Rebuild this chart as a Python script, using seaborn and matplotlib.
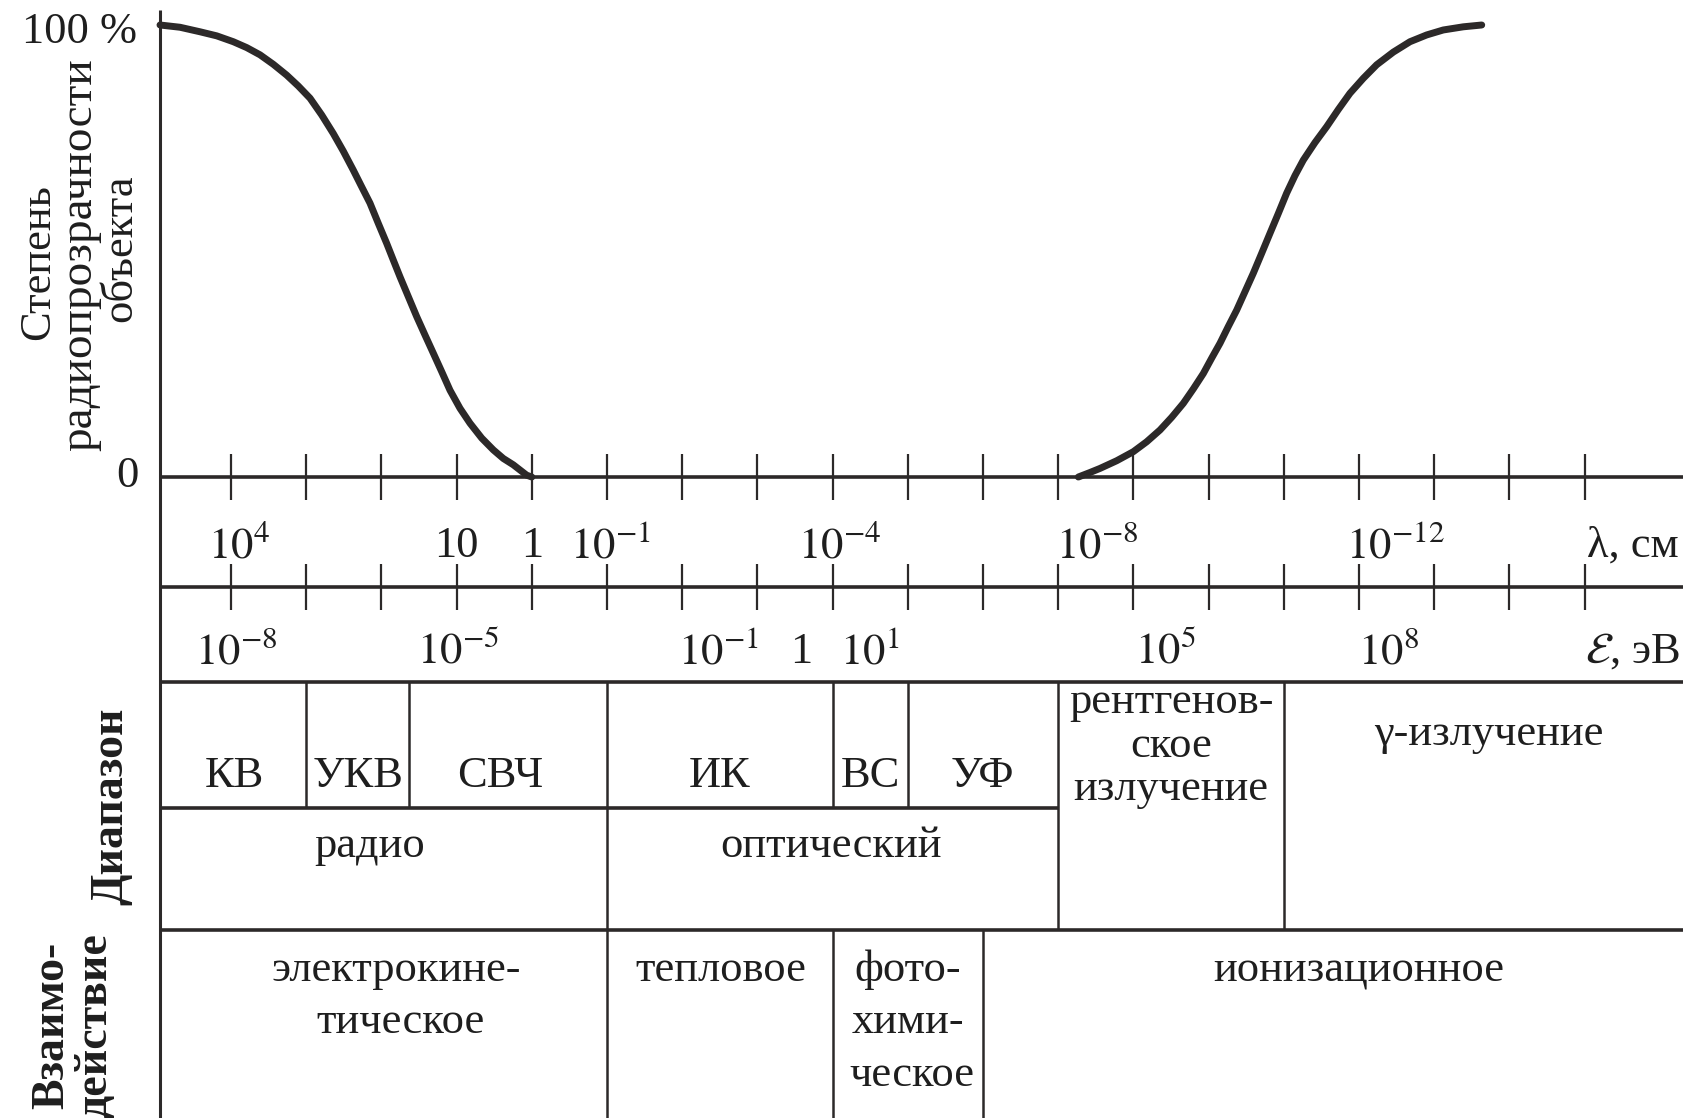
import numpy as np
import pandas as pd
import matplotlib
matplotlib.use('Agg')
import matplotlib.pyplot as plt
import seaborn as sns

# x is measured in decades of wavelength: x = -log10(lambda / cm)
left_x = [-4.944, -4.678, -4.412, -4.190, -3.969, -3.791, -3.614, -3.437, -3.259,
          -3.105, -2.949, -2.794, -2.640, -2.507, -2.374, -2.262, -2.152, -2.041,
          -1.930, -1.842, -1.753, -1.642, -1.531, -1.420, -1.310, -1.198, -1.088,
          -0.955, -0.822, -0.666, -0.512, -0.379, -0.246, -0.068, 0.0]
left_y = [100, 99.5, 98.5, 97.6, 96.3, 95.0, 93.4, 91.3, 88.9,
          86.5, 83.8, 80.1, 76.0, 72.1, 67.9, 64.2, 60.6, 56.1,
          51.7, 48.0, 44.3, 39.9, 35.5, 31.4, 27.4, 23.3, 19.2,
          15.2, 11.9, 8.6, 6.0, 4.1, 2.7, 0.4, 0]
right_x = [7.268, 7.423, 7.556, 7.778, 7.999, 8.177, 8.354, 8.509, 8.664, 8.797,
           8.930, 9.041, 9.152, 9.262, 9.373, 9.484, 9.595, 9.706, 9.816, 9.927,
           10.038, 10.149, 10.259, 10.415, 10.570, 10.725, 10.880, 11.057, 11.235,
           11.456, 11.678, 11.900, 12.121, 12.387, 12.632]
right_y = [0, 1.0, 1.9, 3.6, 5.6, 7.8, 10.4, 13.2, 16.3, 19.5,
           22.9, 26.3, 29.6, 33.3, 36.9, 41.0, 45.1, 49.5, 53.9, 58.3,
           62.8, 66.7, 70.1, 74.0, 77.5, 81.3, 84.9, 88.2, 91.2,
           94.0, 96.3, 97.8, 98.9, 99.6, 100]

decade_ticks = list(range(-4, 15))
lam_labels = [r'$10^{4}$', '10', '1', r'$10^{-1}$', r'$10^{-4}$', r'$10^{-8}$', r'$10^{-12}$']
lam_label_x = [-3.9, -1.0, 0.0, 1.05, 4.1, 7.52, 11.48]
en_labels = [r'$10^{-8}$', r'$10^{-5}$', r'$10^{-1}$', '1', r'$10^{1}$', r'$10^{5}$', r'$10^{8}$']
en_label_x = [-3.93, -0.98, 2.48, 3.58, 4.5, 8.42, 11.39]

# band boundaries (decades)
sub_bounds = [-3, -1.63, 4, 5]          # КВ|УКВ|СВЧ, ИК|ВС|УФ
radio_optical = 1
optical_xray = 7
xray_gamma = 10
heat_photo = 4
photo_ion = 6

sub_names = ['КВ', 'УКВ', 'СВЧ', 'ИК', 'ВС', 'УФ']
sub_x = [-3.96, -2.31, -0.42, 2.5, 4.5, 5.99]
main_names = ['радио', 'оптический']
main_x = [-2.15, 3.98]
xray_lines = ['рентгенов-', 'ское', 'излучение']
gamma_name = 'γ-излучение'
inter_first = ['электрокине-', 'тепловое', 'фото-', 'ионизационное']
inter_first_x = [-1.8, 2.52, 5.0, 11.0]
inter_second = ['тическое', 'хими-']
inter_second_x = [-1.75, 5.0]
inter_third = ['ческое']

# pixel layout of the sheet (y in % units of the upper plot)
Y0, PX = 477, 4.52
def yv(Y):
    return (Y0 - Y) / PX

def xv(X):
    return (X - 231) / 75.2 - 4

X_AXIS, X_END = -4.944, 15.31
INK = '#2c2929'
FS = 32

sns.set_style('white')
plt.rcParams['font.family'] = ['Liberation Serif', 'DejaVu Serif']
plt.rcParams['mathtext.fontset'] = 'stix'

fig = plt.figure(figsize=(17.05, 11.18), dpi=100)
ax = fig.add_axes([0, 0, 1, 1])
ax.set_xlim(xv(0), xv(1705))
ax.set_ylim(yv(1118), yv(0))
ax.axis('off')

# transparency curves
curves = pd.concat([
    pd.DataFrame({'x': left_x, 'y': left_y, 'part': 'left'}),
    pd.DataFrame({'x': right_x, 'y': right_y, 'part': 'right'}),
])
for part, grp in curves.groupby('part'):
    sns.lineplot(data=grp, x='x', y='y', sort=False, ax=ax, color=INK,
                 lw=5.0, estimator=None, legend=False,
                 solid_joinstyle='round', solid_capstyle='round')
ax.set_xlabel('')
ax.set_ylabel('')

# frame lines
ax.vlines(X_AXIS, yv(1118), yv(10), color=INK, lw=2.2)
for Y in [477, 587, 682, 930]:
    ax.hlines(yv(Y), X_AXIS, X_END, color=INK, lw=2.6)
ax.hlines(yv(808), X_AXIS, optical_xray, color=INK, lw=2.6)

# decade ticks on both scales
for Y in [477, 587]:
    ax.vlines(decade_ticks, yv(Y + 23), yv(Y - 23), color=INK, lw=1.6)

# table partitions
ax.vlines(sub_bounds, yv(808), yv(682), color=INK, lw=1.8)
ax.vlines([radio_optical], yv(1118), yv(682), color=INK, lw=1.8)
ax.vlines([optical_xray, xray_gamma], yv(930), yv(682), color=INK, lw=1.8)
ax.vlines([heat_photo, photo_ion], yv(1118), yv(930), color=INK, lw=1.8)

tkw = dict(color='#1e1e1e', fontsize=FS)

# scale labels
for lab, x in zip(lam_labels, lam_label_x):
    ax.text(x, yv(557), lab, ha='center', va='baseline', **tkw)
ax.text(14.64, yv(557), 'λ, см', ha='center', va='baseline', **tkw)
for lab, x in zip(en_labels, en_label_x):
    ax.text(x, yv(663), lab, ha='center', va='baseline', **tkw)
ax.text(14.64, yv(663), r'$\mathcal{E}$, эВ', ha='center', va='baseline', **tkw)

# y axis
ax.text(xv(80), yv(43), '100 %', ha='center', va='baseline', **tkw)
ax.text(xv(127), yv(487), '0', ha='center', va='baseline', **tkw)
for txt, X, Y, fs in [('Степень', 38, 262, FS), ('радиопрозрачности', 80, 255, FS + 2),
                      ('объекта', 120, 248, FS)]:
    ax.text(xv(X), yv(Y), txt, rotation=90, ha='center', va='center',
            color='#1e1e1e', fontsize=fs)

# row titles
bkw = dict(color='#1e1e1e', fontsize=FS + 1, fontweight='bold', rotation=90, ha='center', va='center')
ax.text(xv(111), yv(806), 'Диапазон', **bkw)
ax.text(xv(52), yv(1025), 'Взаимо-', **bkw)
ax.text(xv(95), yv(1026), 'действие', **bkw)

# band names
for name, x in zip(sub_names, sub_x):
    ax.text(x, yv(787), name, ha='center', va='baseline', **tkw)
for name, x in zip(main_names, main_x):
    ax.text(x, yv(857), name, ha='center', va='baseline', **tkw)
for line, Y in zip(xray_lines, [713, 757, 800]):
    ax.text(8.5, yv(Y), line, ha='center', va='baseline', **tkw)
ax.text(12.72, yv(745), gamma_name, ha='center', va='baseline', **tkw)

# interaction
for name, x in zip(inter_first, inter_first_x):
    ax.text(x, yv(981), name, ha='center', va='baseline', **tkw)
for name, x in zip(inter_second, inter_second_x):
    ax.text(x, yv(1033), name, ha='center', va='baseline', **tkw)
ax.text(5.05, yv(1086), inter_third[0], ha='center', va='baseline', **tkw)

fig.savefig('out.png', dpi=100)
